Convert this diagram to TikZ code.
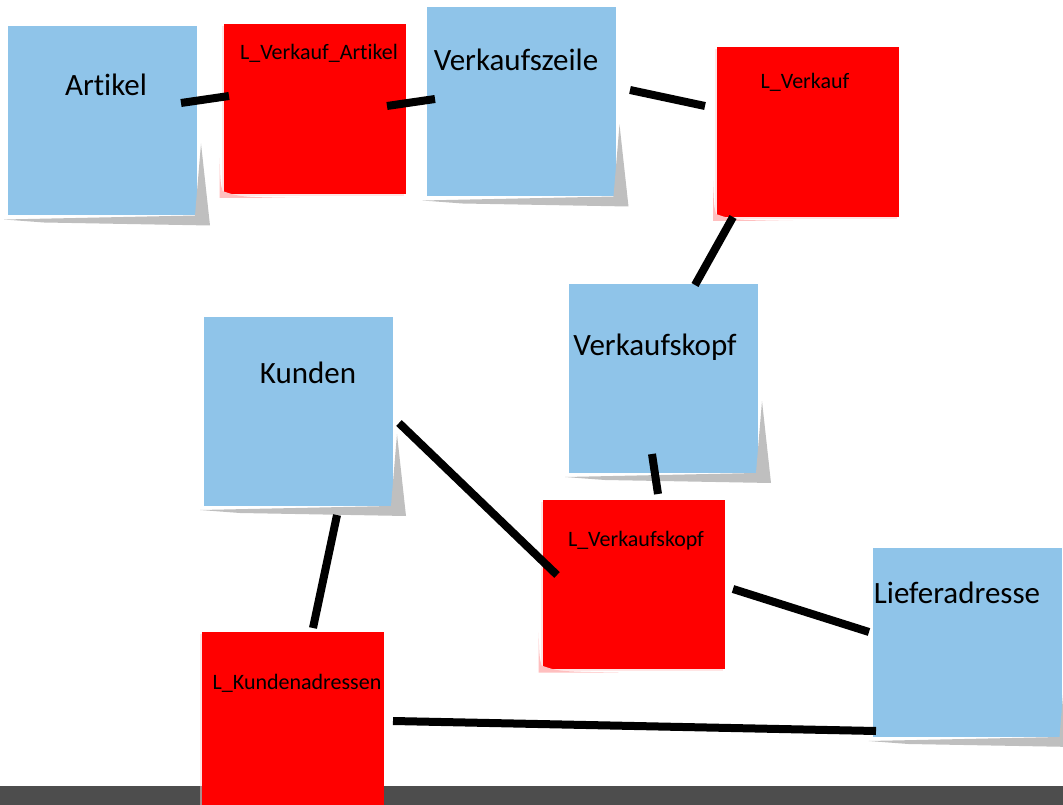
\documentclass[tikz,border=0pt]{standalone}
\usepackage{fontspec}
\setmainfont{Carlito}[Ligatures=NoCommon]
\usetikzlibrary{shadows,calc}
\definecolor{notizblau}{RGB}{143,196,233}
\definecolor{leiste}{RGB}{77,77,77}
\begin{document}
\begin{tikzpicture}[x=1pt, y=-1pt, line width=8pt,
  blau/.style = {fill=notizblau, minimum width=189pt, minimum height=189pt, inner sep=0pt},
  rot/.style = {fill=red, minimum width=182pt, minimum height=170pt, inner sep=0pt, drop shadow={shadow xshift=-2pt, shadow yshift=-2pt, fill=red!20}},
  schatten/.style = {fill=black!25},
  glanz/.style = {fill=red!25},
  gross/.style = {font=\fontsize{31}{37}\selectfont},
  klein/.style = {font=\fontsize{22}{26}\selectfont}]
  \useasboundingbox (0,0) rectangle (1063,805);
  \fill[leiste] (0,786) rectangle (1063,805);
  % Zettel
  \node[blau] (artikel) at (102.5,121) {};
  \node[rot] (lva) at (314.5,109) {};
  \node[blau] (zeile) at (521,102) {};
  \node[rot] (lv) at (808,132) {};
  \node[blau] (kopf) at (663.5,378.5) {};
  \node[blau] (kunden) at (298.5,411.5) {};
  \node[rot, minimum height=169pt] (lvk) at (633.5,584) {};
  \node[blau] (liefer) at (967,642.5) {};
  \node[rot, minimum height=180pt] (lka) at (292.5,722) {};
  % Ecken
  \foreach \n in {artikel,zeile,kopf,kunden,liefer}
    \fill[schatten] ($(\n.south east)+(0,-76)$) -- ($(\n.south east)+(-6,-4)$) -- (\n.south west)
      -- ($(\n.south west)+(40,3)$) -- ($(\n.south east)+(9,6)$) -- cycle;
  \foreach \n in {lva,lv,lvk}
    \fill[glanz] ($(\n.south west)+(0,-40)$) .. controls ($(\n.south west)+(1,-15)$) .. ($(\n.south west)+(3,-7)$)
      .. controls ($(\n.south west)+(20,-1)$) .. ($(\n.south west)+(80,0)$) -- (\n.south west) -- cycle;
  % Beschriftung
  \node[gross] (tartikel) at (106,85) {Artikel};
  \node[klein] (tlva) at (319,53) {L\_Verkauf\_Artikel};
  \node[gross] (tzeile) at (516,60) {Verkaufszeile};
  \node[klein] (tlv) at (805,82) {L\_Verkauf};
  \node[gross] (tkopf) at (655,347) {Verkaufskopf};
  \node[gross] (tkunden) at (308,373) {Kunden};
  \node[klein] (tlvk) at (636,541) {L\_Verkaufskopf};
  \node[gross] (tliefer) at (957,593) {Lieferadresse};
  \node[klein] (tlka) at (297,683) {L\_Kundenadressen};
  % Enden der Striche
  \coordinate (artR) at (181,103);
  \coordinate (lvaL) at (229,96);
  \coordinate (lvaR) at (387,106);
  \coordinate (zeileL) at (435,99);
  \coordinate (zeileR) at (630,90);
  \coordinate (lvL) at (705,106);
  \coordinate (lvU) at (733,217);
  \coordinate (kopfO) at (695,285);
  \coordinate (kopfU) at (652,454);
  \coordinate (lvkO) at (658,494);
  \coordinate (kundenR) at (399,423);
  \coordinate (lvkL) at (557,575);
  \coordinate (kundenU) at (337,515);
  \coordinate (lkaO) at (313,628);
  \coordinate (lvkR) at (733,589);
  \coordinate (lieferL) at (869,632);
  \coordinate (lkaR) at (393,721);
  \coordinate (lieferU) at (876,731);
  \draw (artR) -- (lvaL);
  \draw (lvaR) -- (zeileL);
  \draw (zeileR) -- (lvL);
  \draw (lvU) -- (kopfO);
  \draw (kopfU) -- (lvkO);
  \draw (kundenR) -- (lvkL);
  \draw (kundenU) -- (lkaO);
  \draw (lvkR) -- (lieferL);
  \draw (lkaR) -- (lieferU);
\end{tikzpicture}
\end{document}
